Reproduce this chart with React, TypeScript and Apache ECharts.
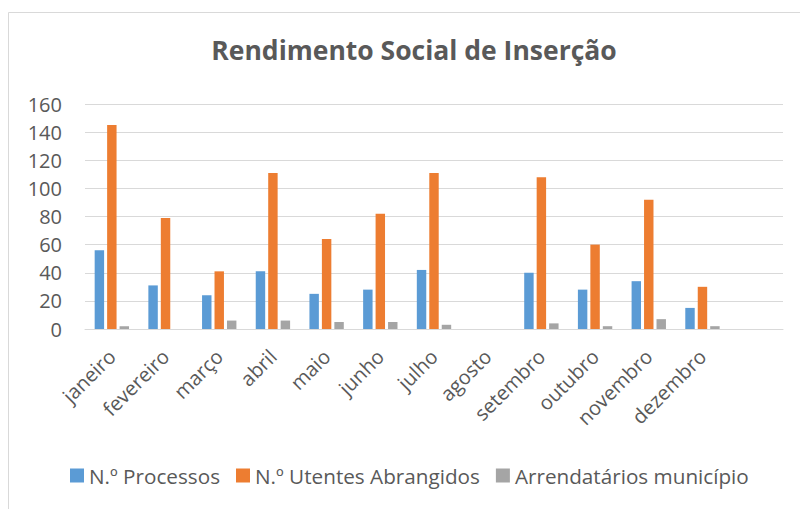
import React, { useEffect, useRef } from "react";
import * as echarts from "echarts";

const months = ["janeiro", "fevereiro", "março", "abril", "maio", "junho", "julho", "agosto", "setembro", "outubro", "novembro", "dezembro", ""];
const processos = [56, 31, 24, 41, 25, 28, 42, 0, 40, 28, 34, 15, null];
const utentes = [145, 79, 41, 111, 64, 82, 111, 0, 108, 60, 92, 30, null];
const arrendatarios = [2, 0, 6, 6, 5, 5, 3, 0, 4, 2, 7, 2, null];
const seriesNames = ["N.º Processos", "N.º Utentes Abrangidos", "Arrendatários município"];
const colors = ["#5B9BD5", "#ED7D31", "#A5A5A5"];

const FONT = "'Open Sans', sans-serif";
const TEXT = "#595959";

export default function App() {
  const ref = useRef<HTMLDivElement>(null);
  useEffect(() => {
    if (!ref.current) return;
    const chart = echarts.init(ref.current, undefined, { renderer: "svg" });
    const data = [processos, utentes, arrendatarios];
    chart.setOption({
      animation: false,
      backgroundColor: "#ffffff",
      color: colors,
      textStyle: { fontFamily: FONT },
      title: {
        text: "Rendimento Social de Inserção",
        left: 409,
        textAlign: "center",
        top: 31,
        textStyle: { fontFamily: FONT, fontSize: 26.5, fontWeight: "bold", color: TEXT },
      },
      graphic: [
        {
          type: "rect",
          shape: { x: 8.5, y: 12.5, width: 820, height: 520 },
          style: { fill: "none", stroke: "#D9D9D9", lineWidth: 1 },
          silent: true,
        },
      ],
      legend: {
        bottom: 18,
        left: 65,
        itemWidth: 14,
        itemHeight: 14,
        itemGap: 16,
        icon: "rect",
        textStyle: { fontFamily: FONT, fontSize: 20.7, color: TEXT },
        data: seriesNames,
      },
      grid: { left: 85, right: 17, top: 104, bottom: 180, containLabel: false },
      xAxis: {
        type: "category",
        data: months,
        axisLine: { lineStyle: { color: "#D9D9D9", width: 1 } },
        axisTick: { show: false },
        axisLabel: { rotate: 45, fontSize: 20, color: TEXT, fontFamily: FONT, margin: 24, interval: 0 },
      },
      yAxis: {
        type: "value",
        min: 0,
        max: 160,
        interval: 20,
        axisLine: { show: false },
        axisTick: { show: false },
        splitLine: { lineStyle: { color: "#D9D9D9", width: 1 } },
        axisLabel: { fontSize: 20, color: TEXT, fontFamily: FONT, margin: 23 },
      },
      series: seriesNames.map((name, i) => ({
        name,
        type: "bar",
        data: data[i],
        barGap: "32%",
        barCategoryGap: "36%",
        itemStyle: { color: colors[i] },
      })),
    });
    return () => chart.dispose();
  }, []);
  return <div ref={ref} style={{ position: "absolute", left: 0, top: 0, width: 800, height: 509 }} />;
}
